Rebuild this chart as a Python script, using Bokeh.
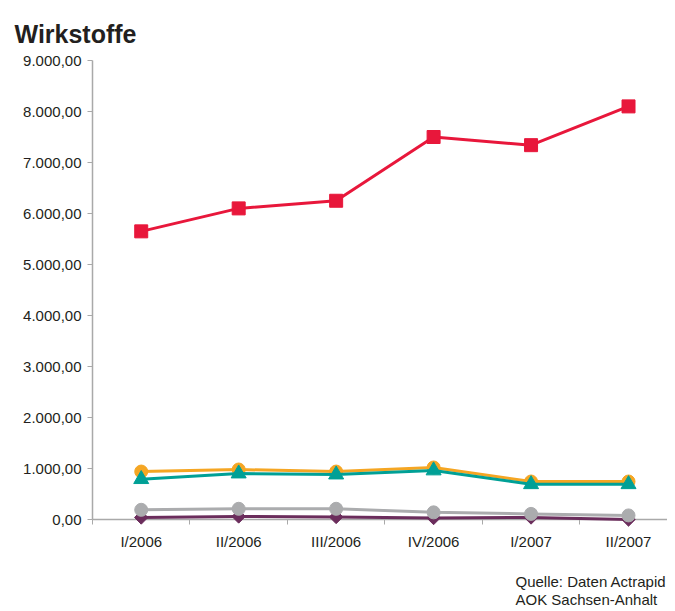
import math
from bokeh.plotting import figure
from bokeh.models import Range1d, FixedTicker, Title
from bokeh.embed import file_html
from bokeh.resources import INLINE

quarters = ["I/2006", "II/2006", "III/2006", "IV/2006", "I/2007", "II/2007"]
red_vals = [5650, 6100, 6250, 7500, 7340, 8100]
orange_vals = [940, 980, 940, 1020, 745, 745]
teal_vals = [790, 900, 880, 960, 690, 690]
gray_vals = [190, 210, 210, 140, 110, 80]
purple_vals = [40, 60, 50, 30, 40, 0]
y_ticks = [0, 1000, 2000, 3000, 4000, 5000, 6000, 7000, 8000, 9000]
title_text = "Wirkstoffe"
source_lines = ["Quelle: Daten Actrapid", "AOK Sachsen-Anhalt"]

FONT = "Liberation Sans"


def de_fmt(v):
    s = f"{v:,.2f}"
    return s.replace(",", "X").replace(".", ",").replace("X", ".")


xs = [i + 0.5 for i in range(len(quarters))]

p = figure(width=667, height=611, x_range=Range1d(0, 5.9), y_range=Range1d(0, y_ticks[-1]),
           output_backend="svg", toolbar_location=None,
           min_border_left=92, min_border_right=0, min_border_top=60, min_border_bottom=92)
p.outline_line_color = None
p.grid.grid_line_color = None
p.background_fill_color = "white"

p.title.text = title_text
p.title.text_font = FONT
p.title.text_font_size = "25px"
p.title.text_font_style = "bold"
p.title.text_color = "#231f20"
p.title.align = "left"
p.title.offset = -78
p.title.standoff = 0

# small spacer between the title and the plot frame
p.add_layout(Title(text=" ", text_font_size="10px", standoff=0), "above")

axis_color = "#a9a9a9"
label_color = "#231f20"

xa = p.xaxis[0]
xa.ticker = FixedTicker(ticks=xs, minor_ticks=list(range(len(quarters) + 1)))
xa.major_label_overrides = {x: q for x, q in zip(xs, quarters)}
xa.major_tick_line_color = None
xa.major_tick_out = 0
xa.major_tick_in = 0
xa.minor_tick_line_color = axis_color
xa.minor_tick_out = 5
xa.minor_tick_in = 0
xa.axis_line_color = axis_color
xa.axis_line_width = 1.5
xa.major_label_text_font = FONT
xa.major_label_text_font_size = "15px"
xa.major_label_text_color = label_color
xa.major_label_standoff = 8

ya = p.yaxis[0]
ya.ticker = FixedTicker(ticks=y_ticks, minor_ticks=[])
ya.major_label_overrides = {t: de_fmt(t) for t in y_ticks}
ya.major_tick_line_color = axis_color
ya.major_tick_out = 5
ya.major_tick_in = 0
ya.axis_line_color = axis_color
ya.axis_line_width = 1.5
ya.major_label_text_font = FONT
ya.major_label_text_font_size = "15px"
ya.major_label_text_color = label_color
ya.major_label_standoff = 6

series = [
    (purple_vals, "#6b2d5c", "square", 9.5, math.pi / 4),
    (gray_vals, "#abacae", "circle", 13, 0),
    (orange_vals, "#f5a623", "circle", 13, 0),
    (teal_vals, "#00a096", "triangle", 15, 0),
    (red_vals, "#e8173b", "square", 13, 0),
]
for vals, color, marker, size, ang in series:
    p.line(xs, vals, line_color=color, line_width=3, level="overlay")
    p.scatter(xs, vals, marker=marker, size=size, angle=ang, fill_color=color,
              line_color=color, level="overlay")

src = Title(text="\n" + "\n".join(source_lines), align="left", offset=423, text_font=FONT,
            text_font_size="15px", text_font_style="normal", text_color=label_color,
            standoff=0, text_line_height=1.1)
p.add_layout(src, "below")

open("out.html", "w").write(file_html(p, INLINE))
